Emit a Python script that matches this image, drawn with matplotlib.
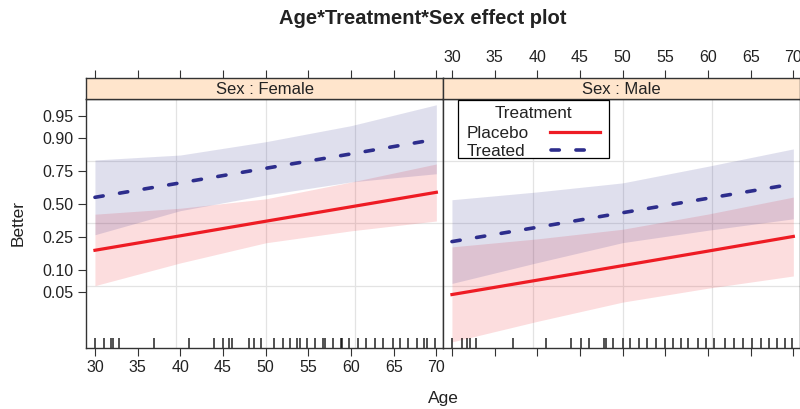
import numpy as np
import matplotlib.pyplot as plt
from matplotlib.lines import Line2D
from matplotlib.patches import Rectangle
from matplotlib.transforms import blended_transform_factory

plt.rcParams['font.family'] = ['Liberation Sans', 'DejaVu Sans']

W, H = 800, 409

# ── data (probabilities) ──
ages = [30, 40, 50, 60, 70]

female_placebo_fit = [0.175, 0.256, 0.359, 0.476, 0.596]
female_placebo_lo = [0.061, 0.122, 0.214, 0.289, 0.361]
female_placebo_hi = [0.415, 0.464, 0.542, 0.675, 0.792]

female_treated_fit = [0.555, 0.669, 0.767, 0.842, 0.897]
female_treated_lo = [0.263, 0.444, 0.574, 0.676, 0.733]
female_treated_hi = [0.813, 0.837, 0.889, 0.932, 0.965]

male_placebo_fit = [0.046, 0.0724, 0.1126, 0.171, 0.252]
male_placebo_lo = [0.0098, 0.0193, 0.0361, 0.0563, 0.0824]
male_placebo_hi = [0.192, 0.237, 0.300, 0.416, 0.557]

male_treated_fit = [0.221, 0.314, 0.427, 0.547, 0.661]
male_treated_lo = [0.0654, 0.123, 0.215, 0.293, 0.378]
male_treated_hi = [0.535, 0.599, 0.669, 0.779, 0.863]

rug_female = [30.0, 31.1, 31.9, 32.1, 32.8, 36.9, 41.0, 44.0, 45.0, 45.7, 46.0,
              48.0, 48.6, 49.5, 51.0, 52.0, 52.8, 53.7, 54.0, 54.9, 55.8, 56.7,
              57.0, 57.9, 58.8, 59.0, 59.8, 60.8, 61.8, 62.8, 63.8, 64.9, 65.8,
              66.7, 67.7, 68.6, 68.9, 69.8]
rug_male = [30.0, 31.2, 31.8, 32.1, 32.8, 37.1, 41.0, 44.0, 45.1, 46.0, 47.8,
            48.1, 48.9, 50.0, 50.9, 51.9, 52.8, 53.9, 55.0, 55.9, 56.8, 57.7,
            58.8, 59.8, 60.7, 62.0, 63.0, 64.1, 65.1, 66.2, 67.1, 68.1, 69.0,
            69.9]

y_tick_probs = [0.05, 0.10, 0.25, 0.50, 0.75, 0.90, 0.95]
y_tick_labels = ["0.05", "0.10", "0.25", "0.50", "0.75", "0.90", "0.95"]
x_ticks = [30, 35, 40, 45, 50, 55, 60, 65, 70]
grid_x = [39.5, 50.0, 60.5]
grid_logit = [1.45, -0.635, -2.74]

RED = "#EE1C24"
BLUE = "#2D2D8C"
STRIP = "#FFE5CC"
FRAME = "#333333"
TXT = "#222222"
DASH = (0, (2.3, 4.6))


def logit(p):
    p = np.asarray(p, dtype=float)
    return np.log(p / (1 - p))


def fx(px):
    return px / W


def fy(py):
    return 1 - py / H


fig = plt.figure(figsize=(W / 100, H / 100), dpi=100)

panels = [
    ("Sex : Female", 86, female_placebo_fit, female_placebo_lo, female_placebo_hi,
     female_treated_fit, female_treated_lo, female_treated_hi, rug_female),
    ("Sex : Male", 443, male_placebo_fit, male_placebo_lo, male_placebo_hi,
     male_treated_fit, male_treated_lo, male_treated_hi, rug_male),
]

for i, (label, left, pf, plo, phi, tf, tlo, thi, rug) in enumerate(panels):
    ax = fig.add_axes([fx(left), fy(348), 357 / W, 249 / H])
    ax.set_xlim(28.95, 70.78)
    ax.set_ylim(-4.82, 3.51)

    for g in grid_x:
        ax.axvline(g, color="#E3E3E3", lw=0.9, zorder=0)
    for g in grid_logit:
        ax.axhline(g, color="#E3E3E3", lw=0.9, zorder=0)

    ax.fill_between(ages, logit(plo), logit(phi), color=RED, alpha=0.15, lw=0, zorder=1)
    ax.fill_between(ages, logit(tlo), logit(thi), color=BLUE, alpha=0.15, lw=0, zorder=1)
    ax.plot(ages, logit(pf), color=RED, lw=2.3, zorder=3)
    ax.plot(ages, logit(tf), color=BLUE, lw=2.6, ls=DASH,
            dash_capstyle="round", zorder=3)

    trans = blended_transform_factory(ax.transData, ax.transAxes)
    ax.vlines(rug, 0, 10 / 249, transform=trans, color="black", lw=1.2, alpha=0.8, zorder=2)

    for s in ax.spines.values():
        s.set_color(FRAME)
        s.set_linewidth(1.0)

    ax.set_xticks(x_ticks)
    ax.tick_params(axis="x", direction="out", length=6, width=0.8, color=FRAME,
                   labelsize=11.5, pad=3, labelbottom=(i == 0), labelcolor=TXT)
    ax.set_yticks(logit(y_tick_probs))
    if i == 0:
        ax.set_yticklabels(y_tick_labels)
        ax.tick_params(axis="y", direction="out", length=6, width=0.8, color=FRAME,
                       labelsize=11.5, pad=3, labelcolor=TXT)
    else:
        ax.tick_params(axis="y", left=False, labelleft=False)

    # strip with top axis
    sax = fig.add_axes([fx(left), fy(99), 357 / W, 21 / H], sharex=ax)
    sax.set_facecolor(STRIP)
    sax.set_ylim(0, 1)
    sax.set_yticks([])
    for s in sax.spines.values():
        s.set_color(FRAME)
        s.set_linewidth(1.0)
    sax.xaxis.tick_top()
    sax.tick_params(axis="x", direction="out", length=6, width=0.8, color=FRAME,
                    labelsize=11.5, pad=3, labeltop=(i == 1), labelbottom=False,
                    bottom=False, labelcolor=TXT)
    sax.text(0.5, 0.45, label, transform=sax.transAxes, ha="center", va="center",
             fontsize=12, color=TXT)

# legend box in male panel
fig.add_artist(Rectangle((fx(458), fy(158)), 151 / W, 58 / H, transform=fig.transFigure,
                         facecolor="white", edgecolor="black", lw=0.9, zorder=10))
fig.text(fx(533), fy(114), "Treatment", ha="center", va="center", fontsize=12.3,
         color=TXT, zorder=11)
fig.text(fx(467), fy(133), "Placebo", ha="left", va="center", fontsize=12.3,
         color=TXT, zorder=11)
fig.text(fx(467), fy(151), "Treated", ha="left", va="center", fontsize=12.3,
         color=TXT, zorder=11)
fig.add_artist(Line2D([fx(550), fx(600)], [fy(132), fy(132)], color=RED, lw=2.3,
                      zorder=11))
fig.add_artist(Line2D([fx(551), fx(600)], [fy(150), fy(150)], color=BLUE, lw=2.6,
                      ls=DASH, dash_capstyle="round", zorder=11))

fig.text(fx(423), fy(18), "Age*Treatment*Sex effect plot", ha="center", va="center",
         fontsize=14.5, fontweight="bold", color=TXT)
fig.text(fx(443), fy(398), "Age", ha="center", va="center", fontsize=12.5, color=TXT)
fig.text(fx(18), fy(223), "Better", ha="center", va="center", rotation=90,
         fontsize=12.5, color=TXT)

fig.savefig("out.png", dpi=100)
